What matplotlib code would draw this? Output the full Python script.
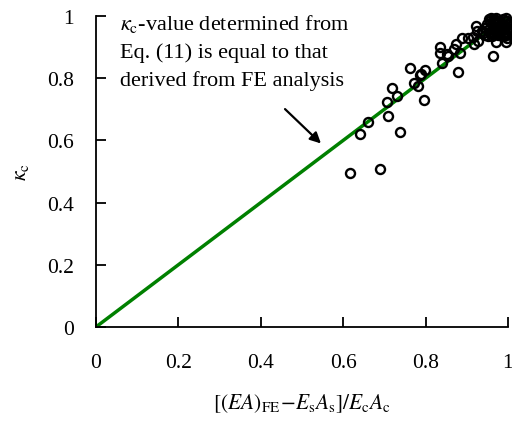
import matplotlib
matplotlib.use('Agg')
import matplotlib.pyplot as plt
import numpy as np

plt.rcParams['font.family'] = ['Liberation Serif', 'DejaVu Serif']
plt.rcParams['mathtext.fontset'] = 'stix'

# FE stiffness ratio vs. kappa_c values
ratio = [0.617, 0.689, 0.641, 0.660, 0.709, 0.738, 0.706, 0.730, 0.718, 0.782,
         0.796, 0.762, 0.789, 0.799, 0.840, 0.879, 0.835, 0.835, 0.852, 0.854,
         0.874, 0.869, 0.888, 0.883, 0.903, 0.915, 0.917, 0.927, 0.922, 0.924,
         0.937, 0.944, 0.964, 0.971, 0.995, 0.786, 0.771,
         0.950, 0.953, 0.955, 0.957, 0.958, 0.960, 0.962, 0.963, 0.965, 0.966,
         0.968, 0.969, 0.970, 0.972, 0.974, 0.976, 0.978, 0.980, 0.982, 0.985,
         0.988, 0.990, 0.992, 0.993, 0.995, 0.996, 0.997, 0.998, 0.999, 0.999,
         0.956, 0.961, 0.967, 0.975, 0.991, 0.994, 0.998, 0.952, 0.945, 0.940]
kappa = [0.495, 0.508, 0.621, 0.659, 0.678, 0.627, 0.723, 0.743, 0.768, 0.775,
         0.730, 0.833, 0.813, 0.826, 0.849, 0.820, 0.881, 0.900, 0.878, 0.871,
         0.910, 0.894, 0.929, 0.881, 0.929, 0.932, 0.910, 0.920, 0.968, 0.952,
         0.952, 0.961, 0.871, 0.916, 0.916, 0.810, 0.785,
         0.975, 0.990, 0.960, 0.985, 0.945, 0.995, 0.970, 0.980, 0.955, 0.990,
         0.965, 0.985, 0.975, 0.995, 0.960, 0.950, 0.985, 0.970, 0.960, 0.975,
         0.990, 0.950, 0.965, 0.985, 0.995, 0.940, 0.975, 0.960, 0.985, 0.950,
         0.945, 0.935, 0.945, 0.940, 0.935, 0.945, 0.930, 0.935, 0.940, 0.945]

# equality line
eq_x = [0, 1]
eq_y = [0, 1]

fig = plt.figure(figsize=(5.12, 4.27), dpi=100)
ax = fig.add_axes([0.1875, 0.232, 0.8045, 0.728])

ax.plot(eq_x, eq_y, color='#008000', lw=2.5, zorder=2)
ax.plot(ratio, kappa, linestyle='none', marker='o', markersize=6.5,
        markerfacecolor='none', markeredgecolor='black', markeredgewidth=1.7,
        zorder=3, clip_on=False)

ax.set_xlim(0, 1)
ax.set_ylim(0, 1)
ax.set_xticks(np.arange(0, 1.01, 0.2))
ax.set_yticks(np.arange(0, 1.01, 0.2))
ax.set_xticklabels(['0', '0.2', '0.4', '0.6', '0.8', '1'])
ax.set_yticklabels(['0', '0.2', '0.4', '0.6', '0.8', '1'])
ax.tick_params(direction='in', length=7, width=1.3, labelsize=15.5)
ax.tick_params(axis='x', pad=19)
ax.tick_params(axis='y', pad=16)
ax.spines['top'].set_visible(False)
ax.spines['right'].set_visible(False)
ax.spines['left'].set_linewidth(1.3)
ax.spines['bottom'].set_linewidth(1.3)

ax.set_xlabel(r'$[(EA)_{\mathrm{FE}}\!-\!E_{\mathrm{s}}A_{\mathrm{s}}]/E_{\mathrm{c}}A_{\mathrm{c}}$',
              fontsize=15.5, labelpad=14)
ax.set_ylabel(r'$\kappa_{\mathrm{c}}$', fontsize=15.5, labelpad=11)

ax.text(0.058, 1.013,
        '$\\kappa_{\\mathrm{c}}$-value determined from\nEq. (11) is equal to that\nderived from FE analysis',
        fontsize=16, va='top', ha='left', linespacing=1.55, clip_on=False)
ax.annotate('', xy=(0.551, 0.584), xytext=(0.454, 0.707),
            arrowprops=dict(arrowstyle='-|>', color='black', lw=1.6,
                            mutation_scale=16))

fig.savefig('out.png', dpi=100)
